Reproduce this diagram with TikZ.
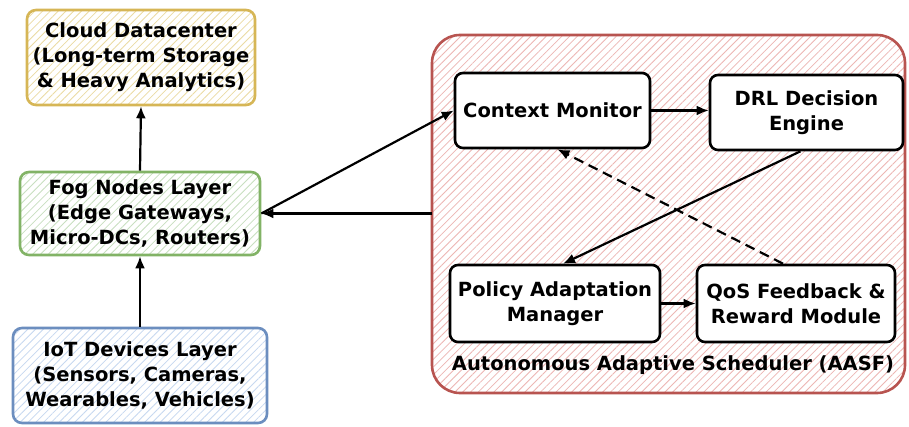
\documentclass[tikz,border=0pt]{standalone}
\usepackage{fontspec}
\setmainfont{DejaVu Sans}
\usetikzlibrary{patterns.meta,arrows.meta}

\definecolor{cloudline}{HTML}{D6B656}
\definecolor{cloudhatch}{HTML}{EBDBA3}
\definecolor{fogline}{HTML}{82B366}
\definecolor{foghatch}{HTML}{C8DFC0}
\definecolor{iotline}{HTML}{6C8EBF}
\definecolor{iothatch}{HTML}{C6D8F0}
\definecolor{aasfline}{HTML}{B85450}
\definecolor{aasfhatch}{HTML}{EDB6B3}

\tikzset{
  x=1pt, y=-1pt,
  txt/.style={font=\fontsize{19.5}{25}\selectfont\bfseries, align=center, text=black},
  layer/.style={txt, rounded corners=9pt, line width=2.6pt, inner sep=0pt,
    preaction={fill=white}},
  hatched/.style={pattern={Lines[angle=45,distance=5.5pt,line width=0.8pt]}, pattern color=#1},
  module/.style={txt, draw=black, fill=white, rounded corners=8pt, line width=2.6pt, inner sep=0pt},
  arr/.style={line width=2.2pt, -{Latex[length=12pt,width=10pt]}},
}

\begin{document}
\begin{tikzpicture}
\useasboundingbox (0,0) rectangle (909,427);

% scheduler container
\node[layer, draw=aasfline, hatched=aasfhatch, rounded corners=28pt,
      minimum width=473pt, minimum height=358pt] (aasf) at (668.5,214) {};

% infrastructure layers
\node[layer, draw=cloudline, hatched=cloudhatch, minimum width=228pt, minimum height=95pt]
  (cloud) at (141,57.5) {Cloud Datacenter\\(Long-term Storage\\\& Heavy Analytics)};
\node[layer, draw=fogline, hatched=foghatch, minimum width=240pt, minimum height=83pt]
  (fog) at (140,213.5) {Fog Nodes Layer\\(Edge Gateways,\\Micro-DCs, Routers)};
\node[layer, draw=iotline, hatched=iothatch, minimum width=254pt, minimum height=95pt]
  (iot) at (140,375.5) {IoT Devices Layer\\(Sensors, Cameras,\\Wearables, Vehicles)};

% scheduler modules
\node[module, minimum width=195pt, minimum height=75pt] (cm) at (552.5,110.5) {Context Monitor};
\node[module, minimum width=193pt, minimum height=75pt] (drl) at (806.5,112.5) {DRL Decision\\Engine};
\node[module, minimum width=210pt, minimum height=77pt] (pol) at (555,303.5) {Policy Adaptation\\Manager};
\node[module, minimum width=198pt, minimum height=77pt] (qos) at (796,303.5) {QoS Feedback \&\\Reward Module};
\node[txt] (lbl) at (673,365) {Autonomous Adaptive Scheduler (AASF)};

% connectors
\draw[arr] (fog.north) -- (cloud.south);
\draw[arr] (iot.north) -- (fog.south);
\draw[arr] (fog.east) -- (cm.west);
\draw[arr] (aasf.west |- fog.east) -- (fog.east);
\draw[arr] (cm.east) -- (cm.east -| drl.west);
\draw[arr] ([xshift=-6pt]drl.south) -- ([xshift=8pt]pol.north);
\draw[arr] (pol.east) -- (qos.west);
\draw[arr, dashed, dash pattern=on 10pt off 6pt] ([xshift=-13pt]qos.north) -- ([xshift=5pt]cm.south);
\end{tikzpicture}
\end{document}
